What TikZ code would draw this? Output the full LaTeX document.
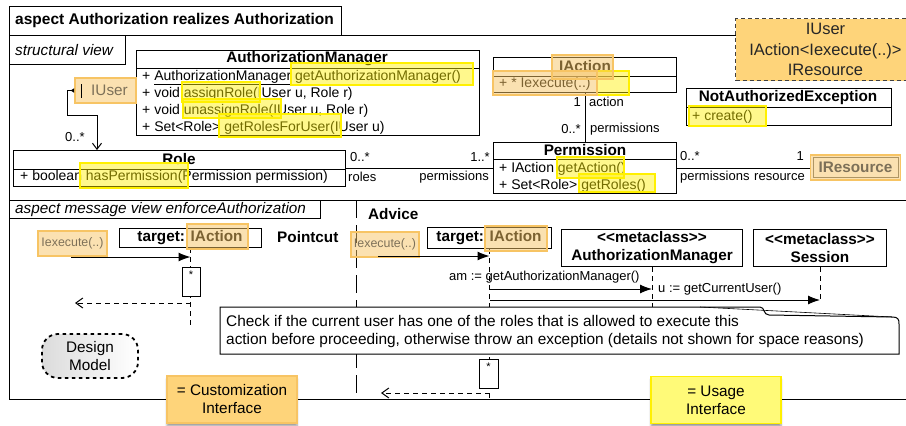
\documentclass[tikz,border=0pt]{standalone}
\usepackage{fontspec}
\setmainfont{Liberation Sans}
\usetikzlibrary{arrows.meta,shadows.blur}
\definecolor{hlorange}{RGB}{247,196,100}
\definecolor{legorange}{RGB}{254,212,122}
\definecolor{hlyellow}{RGB}{255,240,0}
\definecolor{legyellow}{RGB}{255,250,120}
\newcommand*{\fsz}[2]{\fontsize{#1}{#2}\selectfont}
\begin{document}
\begin{tikzpicture}[x=1pt,y=-1pt,
		box/.style={draw,line width=1pt,fill=white,inner sep=0pt,anchor=north west},
		ttl/.style={font=\fsz{15.3}{18}\bfseries,inner sep=0pt},
		txt/.style={font=\fsz{14}{17},anchor=base west,inner sep=0pt},
		lbl/.style={font=\fsz{13}{15},inner sep=0pt},
		yhl/.style={draw=hlyellow,line width=1.6pt,fill=hlyellow,fill opacity=0.45},
		ohl/.style={draw=hlorange,line width=1.6pt,fill=hlorange,fill opacity=0.5},
		life/.style={line width=1pt,dash pattern=on 5pt off 4pt},
		msg/.style={line width=1pt,-{Latex[length=12pt,width=9pt]}},
		ret/.style={line width=1pt,dash pattern=on 5pt off 4pt,-{Straight Barb[length=7pt,width=10pt]}},
		legend/.style={draw,line width=1.4pt,minimum width=130pt,minimum height=47pt,align=center,
			font=\fsz{15.3}{18},blur shadow={shadow xshift=0pt,shadow yshift=-3pt,shadow blur steps=6}}]
	\useasboundingbox (0,0) rectangle (906,426);
	\draw[line width=1pt] (341,35) -- (920,35) (9,35) -- (9,399) -- (920,399) (9,200) -- (920,200);
	\node[box,minimum width=332pt,minimum height=29pt] (aspect) at (9,6) {};
	\node[font=\fsz{15.5}{18}\bfseries,anchor=west,inner sep=0pt] (aspectt) at (15,20.5) {aspect Authorization realizes Authorization};
	\node[box,minimum width=116pt,minimum height=29pt] (sview) at (9,35) {};
	\node[font=\fsz{15.3}{18}\itshape,anchor=west,inner sep=0pt] (sviewt) at (15,50) {structural view};
	\node[draw=black!75,dash pattern=on 4pt off 3pt,line width=1pt,fill=legorange,minimum width=180pt,minimum height=62pt,
		anchor=north west,align=center,font=\fsz{16.5}{20.5},text=black!85] (params) at (735,18) {IUser\\IAction<Iexecute(..)>\\IResource};
	% structural view
	\node[box,minimum width=343pt,minimum height=85pt] (authmgr) at (136,50) {};
	\draw[line width=1pt] (authmgr.west |- 0,68) -- (authmgr.east |- 0,68);
	\node[ttl] (authmgrt) at (307,59) {AuthorizationManager};
	\node[txt] (am1) at (142,80) {+ \underline{AuthorizationManager getAuthorizationManager()}};
	\node[txt] (am2) at (142,97) {+ void assignRole(IUser u, Role r)};
	\node[txt] (am3) at (142,114) {+ void unassignRole(IUser u, Role r)};
	\node[txt] (am4) at (142,131) {+ Set<Role> getRolesForUser(IUser u)};
	\node[box,minimum width=332pt,minimum height=36pt] (role) at (13,150) {};
	\draw[line width=1pt] (role.west |- 0,169) -- (role.east |- 0,169);
	\node[ttl] (rolet) at (179,159) {Role};
	\node[txt] (role1) at (20,180) {+ boolean hasPermission(Permission permission)};
	\node[box,minimum width=183pt,minimum height=35pt] (iaction) at (493,57) {};
	\draw[line width=1pt] (iaction.west |- 0,76) -- (iaction.east |- 0,76);
	\node[ttl] (iactiont) at (585,66.5) {IAction};
	\node[txt] (iaction1) at (499,87) {+ * Iexecute(..)};
	\node[box,minimum width=183pt,minimum height=51pt] (perm) at (493,142) {};
	\draw[line width=1pt] (perm.west |- 0,159) -- (perm.east |- 0,159);
	\node[ttl] (permt) at (585,150.5) {Permission};
	\node[txt] (perm1) at (499,172) {+ IAction getAction()};
	\node[txt] (perm2) at (499,189) {+ Set<Role> getRoles()};
	\node[box,minimum width=205pt,minimum height=37pt] (notauth) at (686,88) {};
	\draw[line width=1pt] (notauth.west |- 0,107) -- (notauth.east |- 0,107);
	\node[ttl] (notautht) at (788,97.5) {NotAuthorizedException};
	\node[txt] (notauth1) at (692,120) {+ create()};
	\draw[black!60,line width=0.6pt] (813,157) rectangle (898,177);
	\node[ohl,minimum width=90pt,minimum height=25pt,font=\fsz{15.3}{18}\bfseries] (iresource) at (855.5,167.5) {IResource};
	\node[ohl,minimum width=61pt,minimum height=25pt,inner sep=0pt,font=\fsz{15.3}{18}] (iuser) at (105.5,90.5) {\hspace*{8pt}IUser};
	\draw[line width=1pt] (81,84) -- (81,98);
	\draw[line width=1pt,{Latex[length=4pt,width=5pt,reversed]}-{Straight Barb[length=6pt,width=9pt]}]
		(iuser.west) -| (67,115) -| (role.north -| 97,0);
	\node[lbl] (iusermult) at (75,137) {0..*};
	\draw[line width=1pt] (perm.west -| role.east) -- (perm.west);
	\draw[line width=1pt] (iaction.south) -- (perm.north);
	\draw[line width=1pt] (perm.east) -- (perm.east -| iresource.west);
	\node[lbl,anchor=west] (rolemult) at (350,157) {0..*};
	\node[lbl,anchor=west] (rolename) at (348,177) {roles};
	\node[lbl,anchor=east] (permmult) at (490,157) {1..*};
	\node[lbl,anchor=east] (permname) at (489,177) {permissions};
	\node[lbl,anchor=east] (actmult) at (581,102) {1};
	\node[lbl,anchor=west] (actname) at (589,102) {action};
	\node[lbl,anchor=east] (actpmult) at (581,129) {0..*};
	\node[lbl,anchor=west] (actpname) at (590,129) {permissions};
	\node[lbl,anchor=west] (respmult) at (680,156) {0..*};
	\node[lbl,anchor=west] (respname) at (680,177) {permissions};
	\node[lbl,anchor=east] (resmult) at (804,156) {1};
	\node[lbl,anchor=east] (resname) at (805,177) {resource};
	\foreach \a/\b/\c/\d in {291/63/473/85, 182/82/260/102, 183/99/281/118, 219/114/341/137, 80/163/188/188,
		597/71/629/95, 557/157/624/178, 579/174/655/192, 689/106/766/126}
		\draw[yhl] (\a,\b) rectangle (\c,\d);
	\foreach \a/\b/\c/\d in {552/55/613/79, 493/71/597/95}
		\draw[ohl] (\a,\b) rectangle (\c,\d);
	% message view
	\node[box,minimum width=311pt,minimum height=18pt] (mview) at (9,200) {};
	\node[font=\fsz{15.3}{18}\itshape,anchor=west,inner sep=0pt] (mviewt) at (15,209.5) {aspect message view enforceAuthorization};
	\draw[line width=1pt,dash pattern=on 18pt off 7pt] (356,200) -- (356,399);
	\node[font=\fsz{15.3}{18}\bfseries,anchor=west,inner sep=0pt] (advice) at (368,214) {Advice};
	\node[ohl,minimum width=69pt,minimum height=25pt,inner sep=0pt,font=\fsz{12.4}{14}] (pcexec) at (72.5,243.5) {Iexecute(..)};
	\node[box,minimum width=142pt,minimum height=19pt] (pctarget) at (119,228) {};
	\node[ttl] (pctargett) at (190,237.5) {target: IAction};
	\node[ttl,anchor=west] (pointcut) at (277,237) {Pointcut};
	\draw[life] (pctarget.south) -- ++(0,78);
	\node[box,minimum width=18pt,minimum height=29pt] (pcact) at (182,267) {};
	\node[font=\fsz{11}{13},inner sep=0pt] (pcstar) at (191,275) {*};
	\coordinate (pcin) at (71,257);
	\coordinate (pcout) at (75,303);
	\draw[msg] (pcin) -- (pcin -| pctarget.south);
	\draw[ret] (pcout -| pctarget.south) -- (pcout);
	\node[ohl,minimum width=68pt,minimum height=25pt,inner sep=0pt,font=\fsz{12.4}{14}] (adexec) at (385,244.5) {Iexecute(..)};
	\node[box,minimum width=124pt,minimum height=21pt] (adtarget) at (427,227) {};
	\node[ttl] (adtargett) at (489,237.5) {target: IAction};
	\node[box,minimum width=181pt,minimum height=37pt,align=center,font=\fsz{15.3}{18}\bfseries] (mgr) at (561,229) {<{}<metaclass>{}>\\AuthorizationManager};
	\node[box,minimum width=133pt,minimum height=37pt,align=center,font=\fsz{15.3}{18}\bfseries] (session) at (753,229) {<{}<metaclass>{}>\\Session};
	\draw[life] (adtarget.south) -- ++(0,149);
	\draw[life] (mgr.south) -- ++(0,41);
	\draw[life] (session.south) -- ++(0,34);
	\coordinate (adin) at (378,256);
	\coordinate (adout) at (381,393);
	\draw[msg] (adin) -- (adin -| adtarget.south);
	\node[lbl,anchor=west] (amcall) at (449,277) {am := getAuthorizationManager()};
	\draw[msg] (adtarget.south |- 0,289) -- (mgr.south |- 0,289);
	\node[lbl,anchor=west] (usercall) at (658,289.5) {u := getCurrentUser()};
	\draw[msg] (adtarget.south |- 0,300) -- (session.south |- 0,300);
	\draw[line width=1pt,fill=white] (220,307) -- (760,307) .. controls (765,307) and (763,315) .. (769,315)
		-- (892,317) .. controls (898,317) and (899,319) .. (899,324) -- (899,354) -- (220,354) -- cycle;
	\draw[line width=0.6pt] (700,307) -- (892,317);
	\node[txt,font=\fsz{15.4}{18}] (note1) at (226,326) {Check if the current user has one of the roles that is allowed to execute this};
	\node[txt,font=\fsz{15.4}{18}] (note2) at (226,344) {action before proceeding, otherwise throw an exception (details not shown for space reasons)};
	\node[box,minimum width=19pt,minimum height=29pt] (adact) at (479,359) {};
	\node[font=\fsz{11}{13},inner sep=0pt] (adstar) at (488.5,367) {*};
	\draw[ret] (adout -| adtarget.south) -- (adout);
	\foreach \a/\b/\c/\d in {187/224/248/249, 485/226/547/251}
		\draw[ohl] (\a,\b) rectangle (\c,\d);
	\node[draw,line width=1.8pt,dash pattern=on 3.5pt off 3.5pt,rounded corners=16pt,left color=black!14,right color=white,
		minimum width=96pt,minimum height=44pt,align=center,font=\fsz{15.3}{18}] (design) at (90,356) {Design\\Model};
	\node[legend,fill=legorange,draw=hlorange] (custom) at (232,399.5) {= Customization\\Interface};
	\node[legend,fill=legyellow,draw=hlyellow] (usage) at (716,400) {= Usage\\Interface};
\end{tikzpicture}
\end{document}
